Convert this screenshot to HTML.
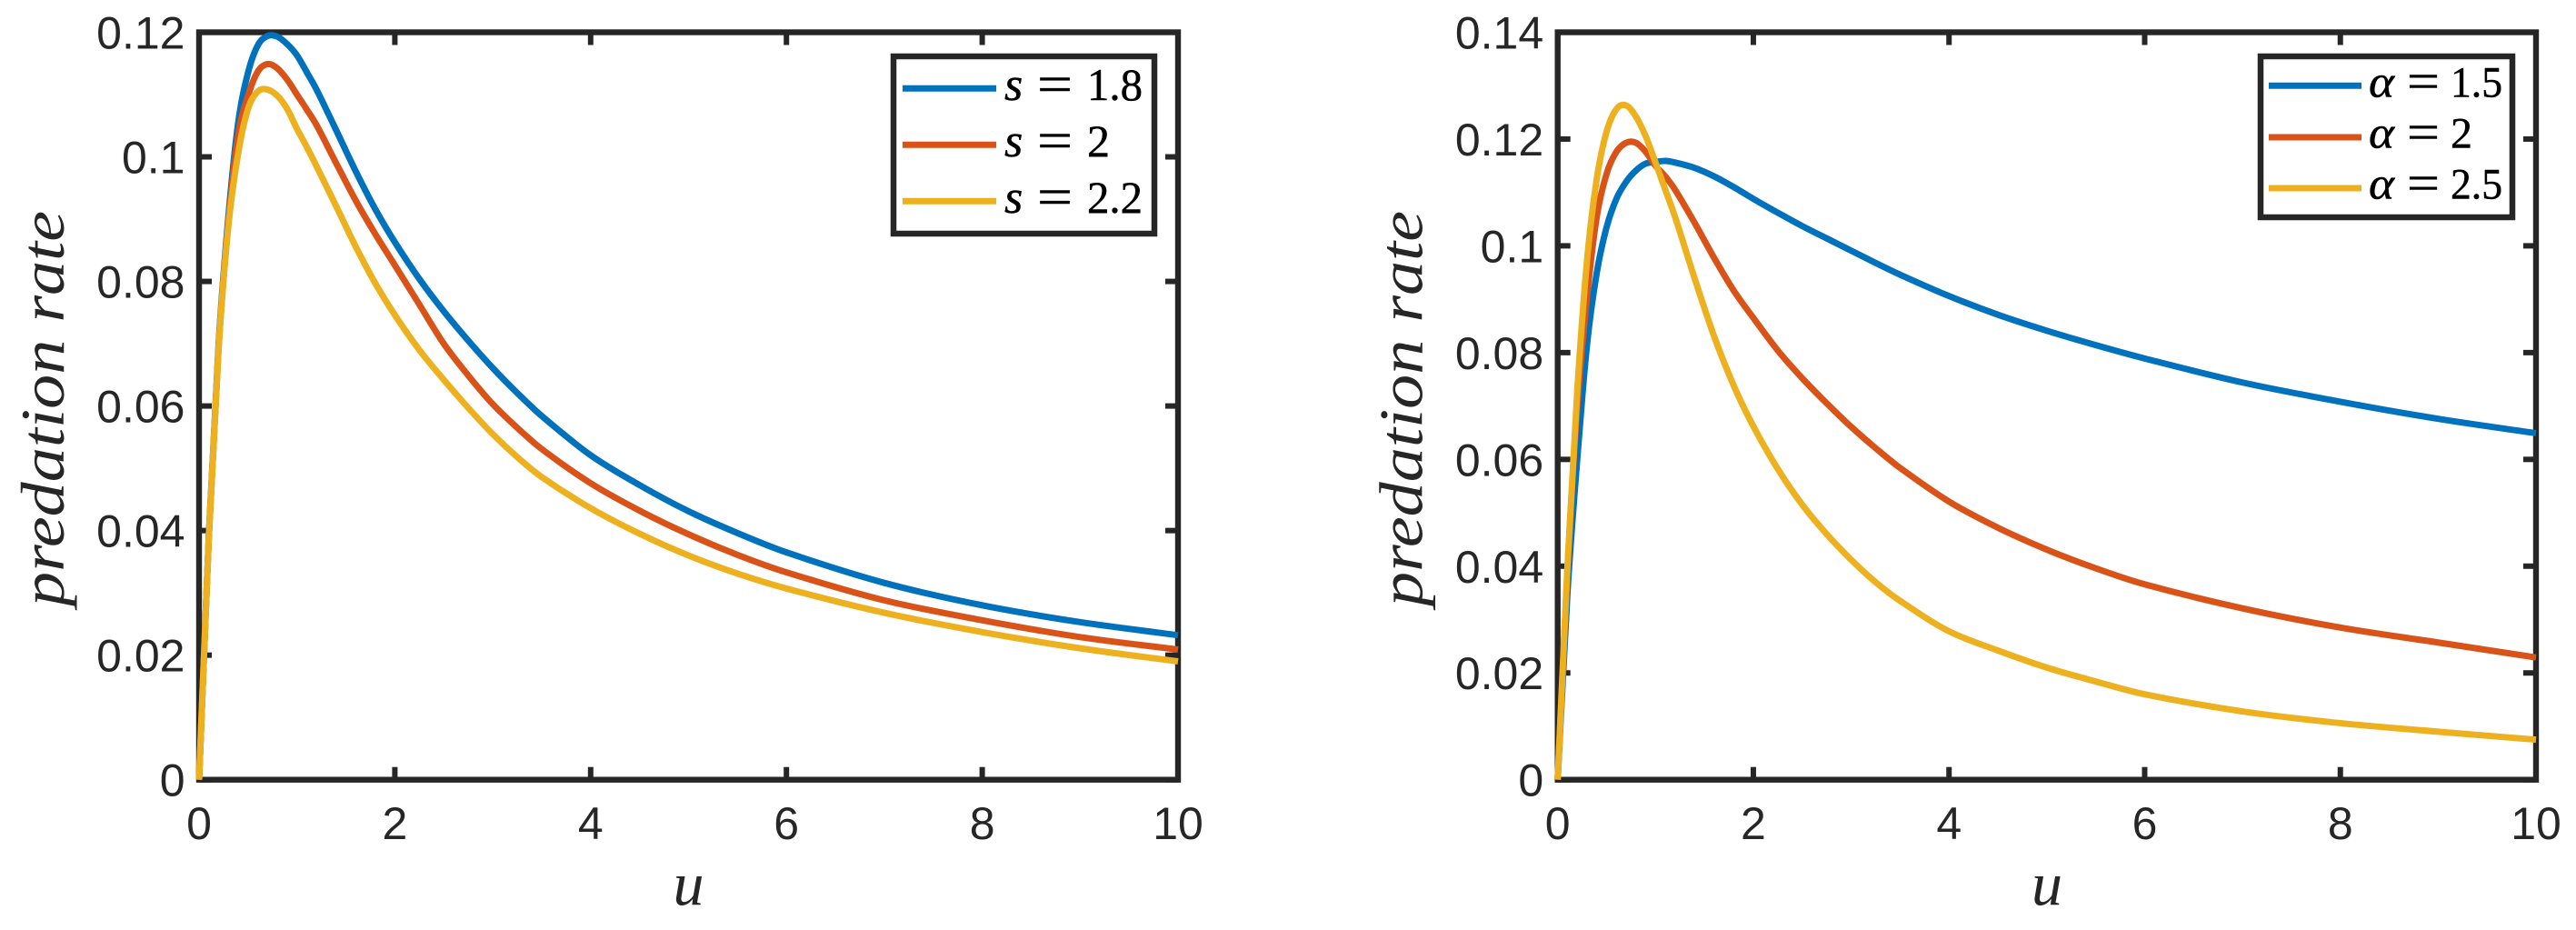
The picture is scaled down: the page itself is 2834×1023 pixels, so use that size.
<!DOCTYPE html>
<html lang="en">
<head>
<meta charset="utf-8">
<title>Predation rate curves</title>
<style>
html,body{margin:0;padding:0;background:#fff;}
svg{display:block;}
.tick-label{font-family:"Liberation Sans",sans-serif;font-size:50px;fill:#262626;}
.axis-title{font-family:"Liberation Serif",serif;font-style:italic;fill:#262626;}
.legend-text{font-family:"Liberation Serif",serif;fill:#000;stroke:#000;stroke-width:0.5px;}
.legend-math{font-family:"Liberation Serif",serif;font-style:italic;fill:#000;stroke:#000;stroke-width:0.5px;}
</style>
</head>
<body>
<svg id="figure" xmlns="http://www.w3.org/2000/svg" width="2834" height="1023" viewBox="0 0 2834 1023">
  <rect x="0" y="0" width="2834" height="1023" fill="#fff"/>
  <g id="panel-s"></g>
  <g id="panel-alpha"></g>

  <text class="axis-title" x="757.5" y="995" font-size="68" text-anchor="middle">u</text>
  <text class="axis-title" x="2252" y="995" font-size="68" text-anchor="middle">u</text>
  <text class="axis-title" transform="translate(70 667) rotate(-90)" font-size="68" textLength="435" lengthAdjust="spacingAndGlyphs">predation rate</text>
  <text class="axis-title" transform="translate(1564.5 667) rotate(-90)" font-size="68" textLength="435" lengthAdjust="spacingAndGlyphs">predation rate</text>

  <g>
    <rect x="983" y="62" width="287" height="195" fill="#fff" stroke="#262626" stroke-width="6.5"/>
    <g>
      <line x1="993" x2="1096" y1="97.3" y2="97.3" stroke="#0072BD" stroke-width="7"/>
      <text class="legend-math" x="1105" y="110" font-size="52">s</text>
      <text class="legend-text" x="1141" y="112" font-size="58" textLength="39" lengthAdjust="spacingAndGlyphs">=</text>
      <text class="legend-text" x="1196" y="110" font-size="50" textLength="61" lengthAdjust="spacingAndGlyphs">1.8</text>
    </g>
    <g>
      <line x1="993" x2="1096" y1="159.3" y2="159.3" stroke="#D95319" stroke-width="7"/>
      <text class="legend-math" x="1105" y="172" font-size="52">s</text>
      <text class="legend-text" x="1141" y="174" font-size="58" textLength="39" lengthAdjust="spacingAndGlyphs">=</text>
      <text class="legend-text" x="1196" y="172" font-size="50">2</text>
    </g>
    <g>
      <line x1="993" x2="1096" y1="221.3" y2="221.3" stroke="#EDB120" stroke-width="7"/>
      <text class="legend-math" x="1105" y="234" font-size="52">s</text>
      <text class="legend-text" x="1141" y="236" font-size="58" textLength="39" lengthAdjust="spacingAndGlyphs">=</text>
      <text class="legend-text" x="1196" y="234" font-size="50" textLength="61" lengthAdjust="spacingAndGlyphs">2.2</text>
    </g>
  </g>

  <g>
    <rect x="2487" y="62" width="277" height="177" fill="#fff" stroke="#262626" stroke-width="6.5"/>
    <g>
      <line x1="2496" x2="2598" y1="94.3" y2="94.3" stroke="#0072BD" stroke-width="7"/>
      <text class="legend-math" x="2606" y="106.5" font-size="50" textLength="28" lengthAdjust="spacingAndGlyphs">α</text>
      <text class="legend-text" x="2648" y="108" font-size="56" textLength="36" lengthAdjust="spacingAndGlyphs">=</text>
      <text class="legend-text" x="2696" y="106.5" font-size="48" textLength="57" lengthAdjust="spacingAndGlyphs">1.5</text>
    </g>
    <g>
      <line x1="2496" x2="2598" y1="151" y2="151" stroke="#D95319" stroke-width="7"/>
      <text class="legend-math" x="2606" y="162.5" font-size="50" textLength="28" lengthAdjust="spacingAndGlyphs">α</text>
      <text class="legend-text" x="2648" y="164" font-size="56" textLength="36" lengthAdjust="spacingAndGlyphs">=</text>
      <text class="legend-text" x="2696" y="162.5" font-size="48">2</text>
    </g>
    <g>
      <line x1="2496" x2="2598" y1="207" y2="207" stroke="#EDB120" stroke-width="7"/>
      <text class="legend-math" x="2606" y="218.5" font-size="50" textLength="28" lengthAdjust="spacingAndGlyphs">α</text>
      <text class="legend-text" x="2648" y="220" font-size="56" textLength="36" lengthAdjust="spacingAndGlyphs">=</text>
      <text class="legend-text" x="2696" y="218.5" font-size="48" textLength="57" lengthAdjust="spacingAndGlyphs">2.5</text>
    </g>
  </g>
</svg>
<script>
// Shared sample positions along u
const uValues = [0,0.1,0.2,0.3,0.4,0.5,0.6,0.7,0.8,0.9,1,1.1,1.2,1.4,1.6,1.8,2,2.25,2.5,2.75,3,3.25,3.5,4,4.5,5,5.5,6,7,8,9,10];

// Left panel series (varying s)
const sSeries18 = [0,.0393,.0700,.0905,.1055,.1135,.1179,.1194,.1193,.1181,.1163,.1136,.1108,.1043,.0977,.0916,.0863,.0804,.0752,.0705,.0661,.0621,.0584,.0521,.0473,.0431,.0396,.0365,.0316,.0280,.0253,.0232];
const sSeries20 = [0,.0390,.0695,.0895,.1035,.1098,.1137,.1149,.1142,.1124,.1100,.1076,.1051,.0990,.0930,.0876,.0826,.0763,.0700,.0649,.0603,.0565,.0531,.0476,.0432,.0394,.0361,.0333,.0288,.0256,.0229,.0209];
const sSeries22 = [0,.0391,.0693,.0890,.1006,.1077,.1105,.1108,.1098,.1077,.1045,.1016,.0985,.0921,.0856,.0797,.0746,.0690,.0642,.0597,.0555,.0518,.0486,.0436,.0395,.0360,.0331,.0307,.0268,.0237,.0211,.0190];

// Right panel series (varying alpha)
const alphaSeries15 = [0,.0350,.0600,.0815,.0950,.1035,.1088,.1120,.1141,.1154,.1157,.1159,.1156,.1146,.1130,.1110,.1088,.1062,.1037,.1014,.0991,.0968,.0946,.0906,.0871,.0841,.0814,.0789,.0744,.0708,.0676,.0649];
const alphaSeries20 = [0,.0393,.0700,.0905,.1055,.1135,.1176,.1193,.1193,.1176,.1150,.1130,.1105,.1043,.0977,.0916,.0865,.0804,.0752,.0705,.0661,.0621,.0584,.0521,.0472,.0431,.0396,.0366,.0321,.0285,.0257,.0229];
const alphaSeries25 = [0,.0400,.0728,.0973,.1126,.1214,.1256,.1263,.1242,.1205,.1156,.1105,.1054,.0939,.0830,.0738,.0662,.0582,.0515,.0460,.0412,.0370,.0335,.0278,.0242,.0210,.0184,.0160,.0128,.0106,.0090,.0075];

// Tick values and labels
const xTickValues = [0,2,4,6,8,10];
const xTickLabels = ["0","2","4","6","8","10"];
const yTickValuesS = [0,0.02,0.04,0.06,0.08,0.1,0.12];
const yTickLabelsS = ["0","0.02","0.04","0.06","0.08","0.1","0.12"];
const yTickValuesAlpha = [0,0.02,0.04,0.06,0.08,0.1,0.12,0.14];
const yTickLabelsAlpha = ["0","0.02","0.04","0.06","0.08","0.1","0.12","0.14"];

const SVG_NS = "http://www.w3.org/2000/svg";

function mk(parent, tag, attrs) {
  const el = document.createElementNS(SVG_NS, tag);
  for (const k in attrs) el.setAttribute(k, attrs[k]);
  parent.appendChild(el);
  return el;
}

// Smooth path through the data: Hermite segments with tangents from neighbouring samples
function smoothPath(xs, ys) {
  const n = xs.length;
  const slope = xs.map(function (x, i) {
    const a = Math.max(i - 1, 0);
    const b = Math.min(i + 1, n - 1);
    return (ys[b] - ys[a]) / (xs[b] - xs[a]);
  });
  let d = "M" + xs[0].toFixed(2) + " " + ys[0].toFixed(2);
  for (let i = 0; i < n - 1; i++) {
    const dx = (xs[i + 1] - xs[i]) / 3;
    d += "C" + (xs[i] + dx).toFixed(2) + " " + (ys[i] + slope[i] * dx).toFixed(2) + " " +
         (xs[i + 1] - dx).toFixed(2) + " " + (ys[i + 1] - slope[i + 1] * dx).toFixed(2) + " " +
         xs[i + 1].toFixed(2) + " " + ys[i + 1].toFixed(2);
  }
  return d;
}

function drawPanel(parentId, box, yMax, yTicks, yLabels, seriesList) {
  const parent = document.getElementById(parentId);
  const xScale = u => box.left + (u / 10) * (box.right - box.left);
  const yScale = v => box.bottom - (v / yMax) * (box.bottom - box.top);
  const tickLen = 14;
  const ink = "#262626";

  xTicks(parent, xScale, box, tickLen, ink);

  yTicks.forEach(function (v, i) {
    const y = yScale(v);
    const tickL = mk(parent, "line", {x1: box.left, x2: box.left + tickLen, y1: y, y2: y, stroke: ink, "stroke-width": 6});
    
    
    const tickR = mk(parent, "line", {x1: box.right - tickLen, x2: box.right, y1: y, y2: y, stroke: ink, "stroke-width": 6});
    
    
    const label = mk(parent, "text", {x: box.left - 15.5, y: y + 18, "text-anchor": "end", "class": "tick-label"});
    
    
    label.textContent = yLabels[i];
  });

  const frame = mk(parent, "rect", {x: box.left, y: box.top, width: box.right - box.left, height: box.bottom - box.top, fill: "none", stroke: ink, "stroke-width": 6.4});
  
  

  seriesList.forEach(function (s) {
    const xs = uValues.map(xScale);
    const ys = s.values.map(yScale);
    const path = mk(parent, "path", {d: smoothPath(xs, ys), fill: "none", stroke: s.color, "stroke-width": 7, "stroke-linejoin": "round", "stroke-linecap": "butt"});
    
    
  });
}

function xTicks(parent, xScale, box, tickLen, ink) {
  xTickValues.forEach(function (u, i) {
    const x = xScale(u);
    const tickB = mk(parent, "line", {x1: x, x2: x, y1: box.bottom - tickLen, y2: box.bottom, stroke: ink, "stroke-width": 6});
    
    
    const tickT = mk(parent, "line", {x1: x, x2: x, y1: box.top, y2: box.top + tickLen, stroke: ink, "stroke-width": 6});
    
    
    const label = mk(parent, "text", {x: x, y: 923, "text-anchor": "middle", "class": "tick-label"});
    
    
    label.textContent = xTickLabels[i];
  });
}

drawPanel("panel-s", {left: 219, right: 1296, top: 35.5, bottom: 857.7}, 0.12, yTickValuesS, yTickLabelsS, [
  {name: "line-s-1.8", color: "#0072BD", values: sSeries18},
  {name: "line-s-2", color: "#D95319", values: sSeries20},
  {name: "line-s-2.2", color: "#EDB120", values: sSeries22}
]);

drawPanel("panel-alpha", {left: 1713.7, right: 2790, top: 35.5, bottom: 857.7}, 0.14, yTickValuesAlpha, yTickLabelsAlpha, [
  {name: "line-alpha-1.5", color: "#0072BD", values: alphaSeries15},
  {name: "line-alpha-2", color: "#D95319", values: alphaSeries20},
  {name: "line-alpha-2.5", color: "#EDB120", values: alphaSeries25}
]);
</script>
</body>
</html>
